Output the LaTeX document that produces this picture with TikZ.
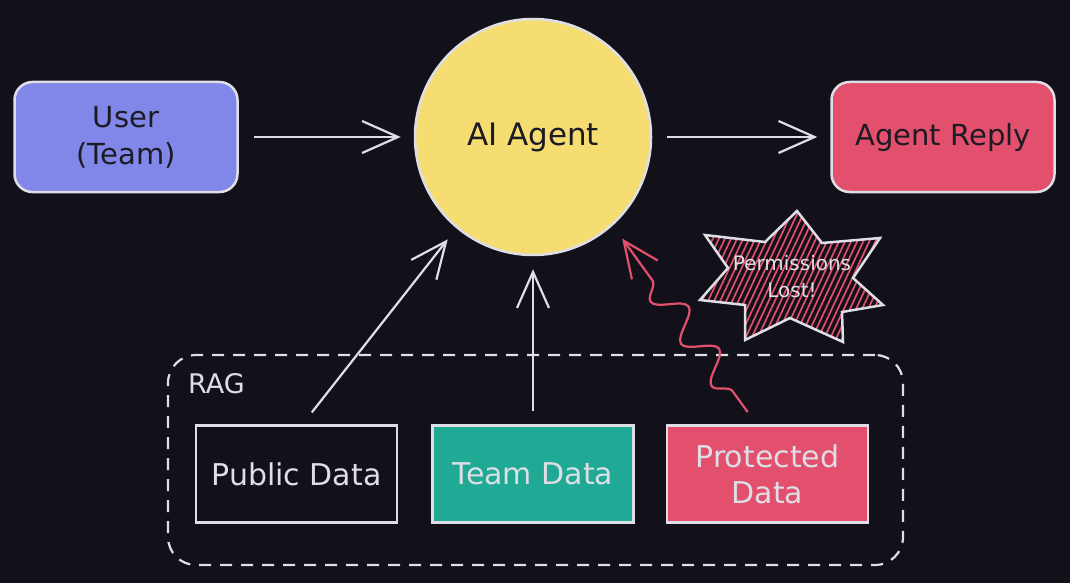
\documentclass[tikz,border=0pt]{standalone}
\usepackage{fontspec}
\setmainfont{DejaVu Sans}
\usepackage{tikz}
\usetikzlibrary{
  arrows.meta,
  calc,
  decorations.pathmorphing,
  patterns.meta,
  positioning,
  shapes,
}
\definecolor{bgdark}{RGB}{18,16,25}
\definecolor{chalk}{RGB}{222,222,230}
\definecolor{ink}{RGB}{28,26,34}
\definecolor{periwinkle}{RGB}{128,135,232}
\definecolor{sunyellow}{RGB}{246,221,114}
\definecolor{rosered}{RGB}{226,80,110}
\definecolor{seagreen}{RGB}{32,170,149}
\tikzstyle{arrow} = [
  -{Straight Barb[length=36pt,width=32pt]},
  line width=2.2pt,
  chalk,
]
\tikzstyle{wavy} = [
  -{Straight Barb[length=36pt,width=32pt]},
  line width=2.2pt,
  rosered,
  decorate,
  decoration={snake,amplitude=14pt,segment length=52pt,pre length=26pt,post length=34pt},
]
\tikzstyle{bigbox} = [
  draw=chalk,
  rectangle,
  rounded corners=18,
  line width=2.5pt,
  minimum width=223,
  minimum height=110,
  text=ink,
  align=center,
  font=\fontsize{29}{37}\selectfont,
]
\tikzstyle{databox} = [
  draw=chalk,
  rectangle,
  line width=2.5pt,
  minimum width=201,
  minimum height=97,
  text=chalk,
  align=center,
  font=\fontsize{30}{36}\selectfont,
]

\begin{document}
\begin{tikzpicture}[x=1pt,y=-1pt,node distance=0pt and 0pt]
      \fill[bgdark] (0,0) rectangle (1070,583);
      \useasboundingbox (0,0) rectangle (1070,583);

      \node[circle,draw=chalk,line width=2.5pt,minimum size=236,fill=sunyellow,text=ink,font=\fontsize{31}{36}\selectfont] (agent) at (533,137) {AI Agent};
      \node[bigbox,fill=periwinkle]    (user)  [left=175pt of agent]      {User\\(Team)};
      \node[bigbox,fill=rosered]    (reply)  [right=178pt of agent]      {Agent Reply};

      \node[databox]    (team)  [below=168pt of agent,fill=seagreen]      {Team Data};
      \node[databox]    (pub)  [left=33pt of team]      {Public Data};
      \node[databox,fill=rosered]    (prot)  [right=31pt of team]      {Protected\\Data};

      \node[draw=chalk,dash pattern=on 12pt off 9pt,rounded corners=28,line width=2.2pt,minimum width=735,minimum height=210] (rag) at (535.5,460) {};
      \node[text=chalk,inner sep=0pt,anchor=base west,font=\fontsize{27}{32}\selectfont] (raglabel) at ([xshift=21pt,yshift=-40pt]rag.north west) {RAG};

      \draw[arrow,shorten <=15pt,shorten >=13pt] (user) -- (agent);
      \draw[arrow,shorten <=15pt,shorten >=13pt] (agent) -- (reply);
      \draw[arrow,shorten <=15pt,shorten >=14pt] ([xshift=6pt]pub.north) -- (agent.230);
      \draw[arrow,shorten <=13pt,shorten >=13pt] (team) -- (agent);

      \coordinate (w0) at ([xshift=-11pt]prot.north);
      \draw[wavy] ($(w0)!15pt!(agent.312)$) -- ($(agent.312)!16pt!(w0)$);

      \draw[chalk,line width=2.5pt,pattern={Lines[angle=65,distance=5.5pt,line width=1.7pt]},pattern color=rosered]
        (797,211) -- (822,243) -- (880,238) -- (853,278) -- (883,305) -- (842,312) -- (843,342)
        -- (790,318) -- (745,340) -- (745,305) -- (700,300) -- (728,268) -- (705,235) -- (765,242) -- cycle;
      \node[text=chalk,align=center,font=\fontsize{20}{27}\selectfont] (lost) at (792,277) {Permissions\\Lost!};
    \end{tikzpicture}
\end{document}
